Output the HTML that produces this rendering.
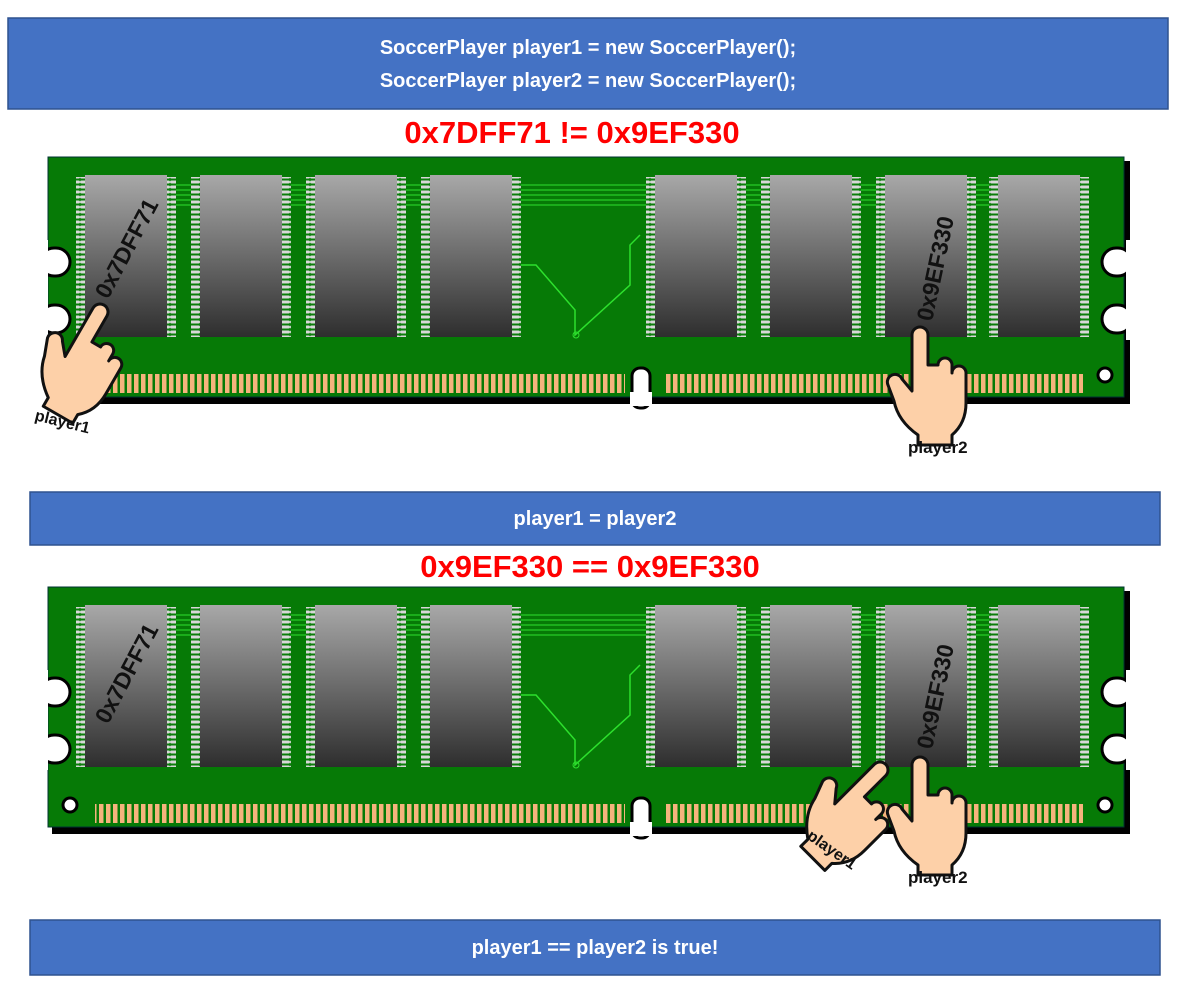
<!DOCTYPE html>
<html><head><meta charset="utf-8"><style>
html,body{margin:0;padding:0;background:#fff;width:1200px;height:1000px;overflow:hidden}
svg{display:block}
text{font-family:"Liberation Sans","DejaVu Sans",sans-serif}
</style></head><body>
<svg id="s" width="1200" height="1000" viewBox="0 0 1200 1000">
<defs>
<linearGradient id="chip" x1="0" y1="0" x2="0" y2="1"><stop offset="0" stop-color="#a8a8a8"/><stop offset="1" stop-color="#2e2e2e"/></linearGradient>
<pattern id="pins" width="10" height="5" patternUnits="userSpaceOnUse"><rect width="10" height="5" fill="#0a7d0a"/><rect x="0" y="0.5" width="10" height="3" rx="1.5" fill="#d8d8d8"/></pattern>
<pattern id="contacts" width="7" height="20" patternUnits="userSpaceOnUse"><rect width="7" height="20" fill="#067a06"/><rect x="1" width="4.5" height="20" fill="#f5b47d"/></pattern>
</defs>
<rect x="8" y="18" width="1160" height="91" fill="#4472c4" stroke="#2f528f" stroke-width="1.5"/>
<text x="588" y="54" fill="#fff" font-size="20" font-weight="bold" text-anchor="middle">SoccerPlayer player1 = new SoccerPlayer();</text>
<text x="588" y="87" fill="#fff" font-size="20" font-weight="bold" text-anchor="middle">SoccerPlayer player2 = new SoccerPlayer();</text>
<text x="572" y="143" fill="#f00" font-size="31" font-weight="bold" text-anchor="middle">0x7DFF71 != 0x9EF330</text>
<g id="b1"></g>
<rect x="30" y="492" width="1130" height="53" fill="#4472c4" stroke="#2f528f" stroke-width="1.5"/>
<text x="595" y="525" fill="#fff" font-size="20" font-weight="bold" text-anchor="middle">player1 = player2</text>
<text x="590" y="577" fill="#f00" font-size="31" font-weight="bold" text-anchor="middle">0x9EF330 == 0x9EF330</text>
<g id="b2"></g>
<rect x="30" y="920" width="1130" height="55" fill="#4472c4" stroke="#2f528f" stroke-width="1.5"/>
<text x="595" y="954" fill="#fff" font-size="20" font-weight="bold" text-anchor="middle">player1 == player2 is true!</text>
</svg>
<script>
const NS="http://www.w3.org/2000/svg";
const chipX=[85,200,315,430,655,770,885,998];
function el(p,t,a){const e=document.createElementNS(NS,t);for(const k in a)e.setAttribute(k,a[k]);p.appendChild(e);return e;}
function board(g,dy){
  const sh=el(g,'rect',{x:52,y:161+dy,width:1078,height:243,fill:'#000'});
  
  
  const pcb=el(g,'rect',{x:48,y:157+dy,width:1076,height:240,fill:'#067a06',stroke:'#033',"stroke-width":1});
  
  
  [[40,248],[40,305]].forEach(n=>{el(g,'rect',{x:n[0],y:n[1]+dy,width:30,height:28,rx:14,fill:'#fff',stroke:'#000',"stroke-width":3});
    el(g,'rect',{x:1102,y:n[1]+dy,width:30,height:28,rx:14,fill:'#fff',stroke:'#000',"stroke-width":3});});
  el(g,'rect',{x:30,y:240+dy,width:18,height:100,fill:'#fff'});
  el(g,'rect',{x:1126,y:240+dy,width:18,height:100,fill:'#fff'});
  el(g,'circle',{cx:70,cy:375+dy,r:7,fill:'#fff',stroke:'#000',"stroke-width":3});
  el(g,'circle',{cx:1105,cy:375+dy,r:7,fill:'#fff',stroke:'#000',"stroke-width":3});
  el(g,'rect',{x:632,y:368+dy,width:18,height:40,rx:8,fill:'#fff',stroke:'#000',"stroke-width":3});
  el(g,'rect',{x:630,y:392+dy,width:22,height:14,fill:'#fff'});
  el(g,'rect',{x:95,y:374+dy,width:530,height:19,fill:'url(#contacts)'});
  el(g,'rect',{x:665,y:374+dy,width:418,height:19,fill:'url(#contacts)'});
  for(let i=0;i<5;i++){el(g,'line',{x1:160,y1:185+i*5+dy,x2:1000,y2:185+i*5+dy,stroke:'#2de02d',"stroke-width":1});}
  el(g,'polyline',{points:`520,265 536,265 575,310 575,335 630,285 630,245 640,235`.split(' ').map(p=>{const[a,b]=p.split(',');return a+','+(+b+dy)}).join(' '),fill:'none',stroke:'#2de02d',"stroke-width":1.5});
  el(g,'circle',{cx:576,cy:335+dy,r:3,fill:'none',stroke:'#2de02d'});
  chipX.forEach(x=>{
    const c=el(g,'rect',{x:x,y:175+dy,width:82,height:162,fill:'url(#chip)'});
    
    
    el(g,'rect',{x:x-9,y:177+dy,width:9,height:160,fill:'url(#pins)'});
    el(g,'rect',{x:x+82,y:177+dy,width:9,height:160,fill:'url(#pins)'});
  });
}
board(document.getElementById('b1'),0);
board(document.getElementById('b2'),430);
function hand(g,x,y,rot){
  const h=el(g,'g',{transform:`translate(${x},${y}) rotate(${rot})`});
  
  
  el(h,'path',{d:'M-8,0 a8,8 0 0 1 16,0 v30 h10 a7,7 0 0 1 14,0 v8 a7,7 0 0 1 14,0 v30 q0,20 -14,32 v10 h-34 v-10 q-20,-14 -24,-34 l-6,-16 a7,7 0 0 1 14,-6 l10,12 z',fill:'#fdd0a8',stroke:'#111',"stroke-width":3,"stroke-linejoin":"round"});
}
const s=document.getElementById('s');
hand(s,920,335,0);
hand(s,100,312,30);
hand(s,920,765,0);
hand(s,880,770,45);
function lbl(txt,x,y,rot,size,name){
  const t=el(s,'text',{x:0,y:0,transform:`translate(${x},${y}) rotate(${rot})`,"font-size":size,"font-weight":"bold",fill:'#111'});
  t.textContent=txt;
  
  
}
lbl('0x7DFF71',108,300,-62,23,'address-label-player1');
lbl('0x9EF330',932,322,-78,23,'address-label-player2');
lbl('player1',34,420,14,16,'player1-label');
lbl('player2',908,453,0,17,'player2-label');
lbl('0x7DFF71',108,725,-62,23,'address-label-old');
lbl('0x9EF330',932,750,-78,23,'address-label-shared');
lbl('player1',806,838,35,16,'player1-label-bottom');
lbl('player2',908,883,0,17,'player2-label-bottom');
</script>
</body></html>
